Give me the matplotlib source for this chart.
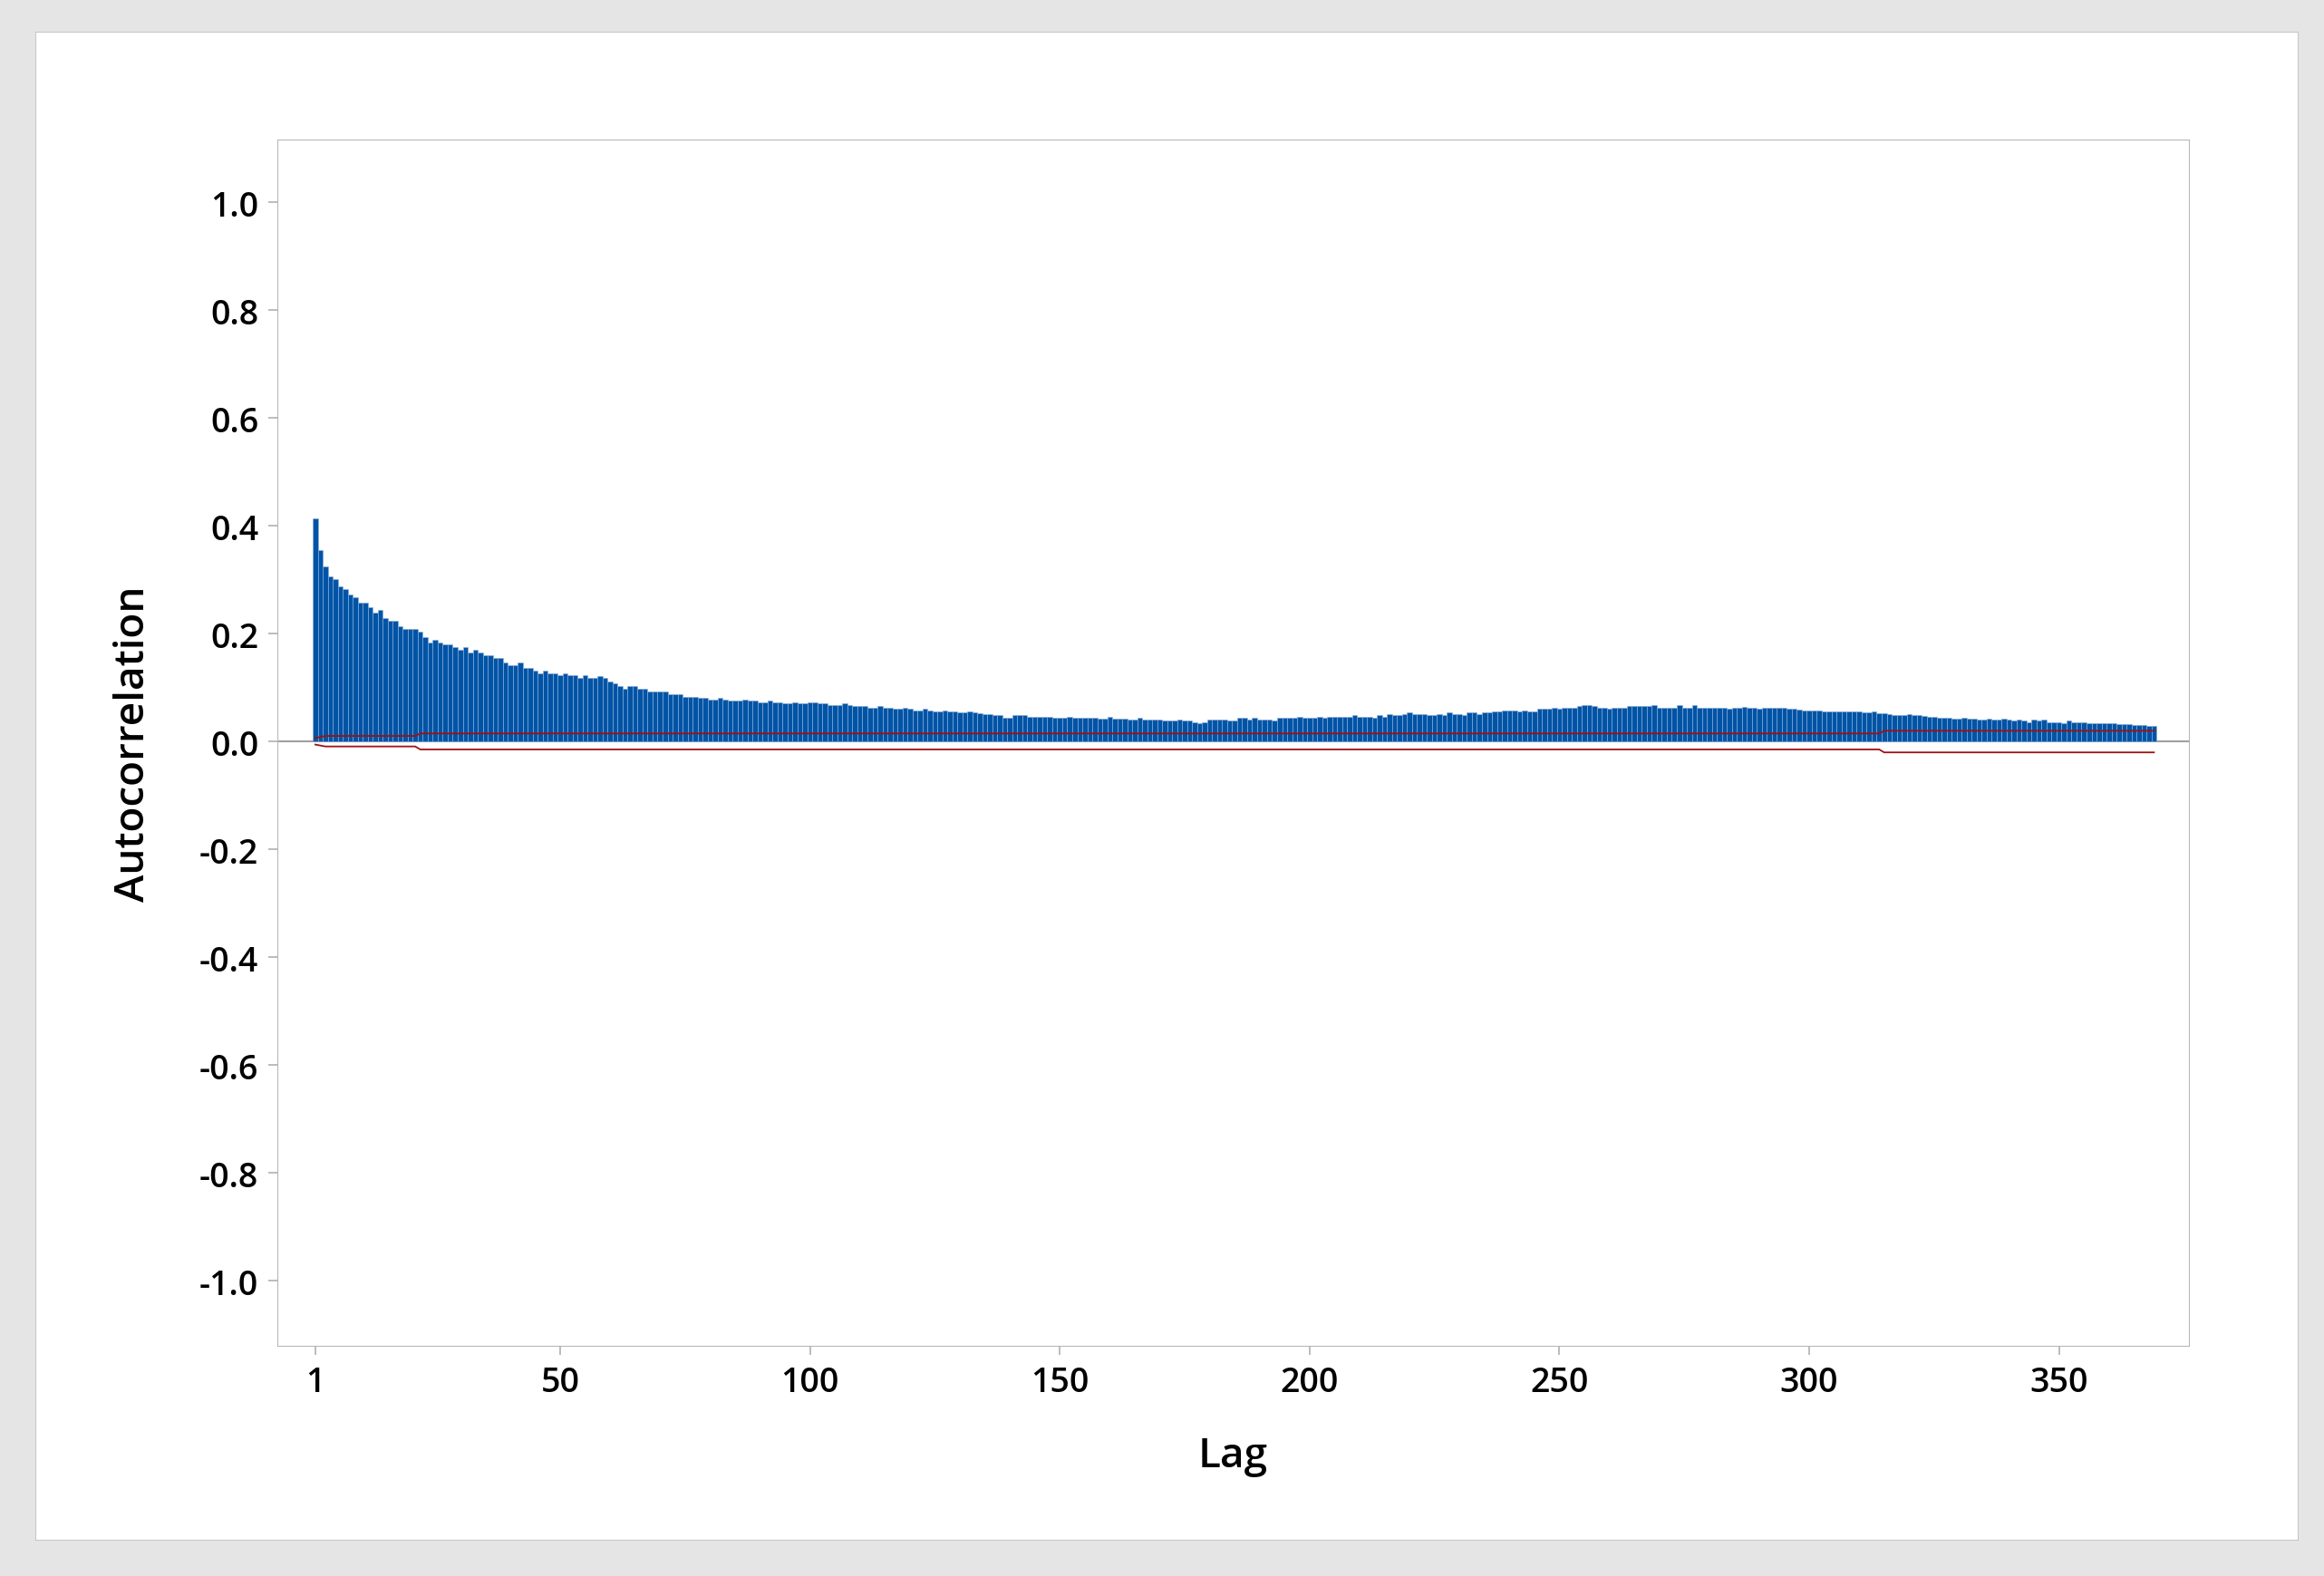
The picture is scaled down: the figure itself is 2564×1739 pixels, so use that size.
import numpy as np
import matplotlib
matplotlib.use("Agg")
import matplotlib.pyplot as plt

acf_milli = [
413,355,325,306,301,287,282,272,267,258,258,248,238,243,228,224,224,213,209,209,
209,204,194,184,189,184,180,180,175,170,175,165,170,165,160,160,155,155,146,141,
141,146,136,136,131,126,131,126,126,122,126,122,122,117,122,117,117,121,117,111,
107,102,97,102,102,97,97,92,
92,92,92,87,87,87,82,82,82,80,80,78,78,80,78,75,75,75,77,75,75,72,72,75,72,72,70,70,72,70,70,72,
72,70,70,68,68,68,70,68,65,65,65,63,63,65,63,63,60,60,62,60,58,58,60,58,56,56,58,56,55,53,53,55,53,52,50,50,49,
49,43,43,48,48,48,46,46,46,46,46,43,43,43,46,43,43,43,43,43,42,42,45,42,42,42,40,40,43,40,40,40,40,38,38,38,40,38,38,36,34,
36,40,40,40,40,38,38,43,43,40,43,40,40,40,38,43,43,43,43,46,43,43,43,46,43,46,46,46,46,46,48,46,46,46,43,48,46,50,48,48,50,53,
50,50,50,48,48,50,48,53,50,50,48,53,53,51,54,54,55,55,58,58,58,55,58,55,55,60,60,60,62,60,62,63,63,65,67,67,
65,62,63,60,62,62,62,65,65,65,65,65,67,63,63,63,63,67,63,63,67,63,63,63,63,62,63,60,62,62,64,62,62,60,62,62,62,62,62,60,60,59,58,58,
57,57,56,56,56,55,55,55,55,55,53,53,55,52,52,50,48,48,48,50,48,48,47,46,46,44,44,44,42,42,44,42,42,40,40,42,40,40,42,40,38,40,38,36,40,38,40,36,36,36,33,38,36,36,36,34,34,34,34,34,34,32,32,32,31,30,30,28,28,
]
acf = np.array(acf_milli) / 1000.0
lags = np.arange(1, len(acf) + 1)

ci_lags = [1, 3, 21, 22, 314, 315, 369]
ci_upper = [0.006, 0.010, 0.010, 0.0146, 0.0146, 0.0196, 0.0196]
ci_lower = [-0.006, -0.0095, -0.0095, -0.015, -0.015, -0.0205, -0.0205]

xticks = [1, 50, 100, 150, 200, 250, 300, 350]
yticks = [-1.0, -0.8, -0.6, -0.4, -0.2, 0.0, 0.2, 0.4, 0.6, 0.8, 1.0]

plt.rcParams['font.family'] = ['Open Sans', 'DejaVu Sans']
W, H = 2564, 1740
fig = plt.figure(figsize=(W/100, H/100), dpi=100)
fig.patch.set_facecolor('#e5e5e5')
bg = fig.add_axes([39/W, 1-1700/H, (2535-39)/W, (1700-36)/H], zorder=0)
bg.set_facecolor('white')
bg.set_xticks([]); bg.set_yticks([])
for s in bg.spines.values():
    s.set_color('#c8c8c8')

ax = fig.add_axes([306/W, 1-1486/H, (2415-306)/W, (1486-155)/H], zorder=1)
ax.bar(lags, acf, width=1.0, color='#0054a6', edgecolor='#8fb0da', linewidth=0.4, zorder=2)
ax.axhline(0, color='#a0a0a0', lw=1.5, zorder=1)
ax.plot(ci_lags, ci_upper, color='#a01010', lw=1.3, zorder=3)
ax.plot(ci_lags, ci_lower, color='#a01010', lw=1.3, zorder=3)

ax.set_xlim(-6.6, 376)
ax.set_ylim(-1.121, 1.116)
ax.set_xticks(xticks)
ax.set_yticks(yticks)
ax.set_yticklabels([f"{v:.1f}" for v in yticks])
for s in ax.spines.values():
    s.set_color('#b8b8b8')
ax.tick_params(colors='#b0b0b0', labelcolor='black', labelsize=27, length=7, width=1.2, pad=8)
for lab in ax.get_xticklabels() + ax.get_yticklabels():
    lab.set_fontweight('semibold')
ax.set_xlabel('Lag', fontsize=33, fontweight='semibold', labelpad=29)
ax.set_ylabel('Autocorrelation', fontsize=33, fontweight='semibold', labelpad=36)

fig.savefig('out.png', dpi=100, facecolor=fig.get_facecolor())
